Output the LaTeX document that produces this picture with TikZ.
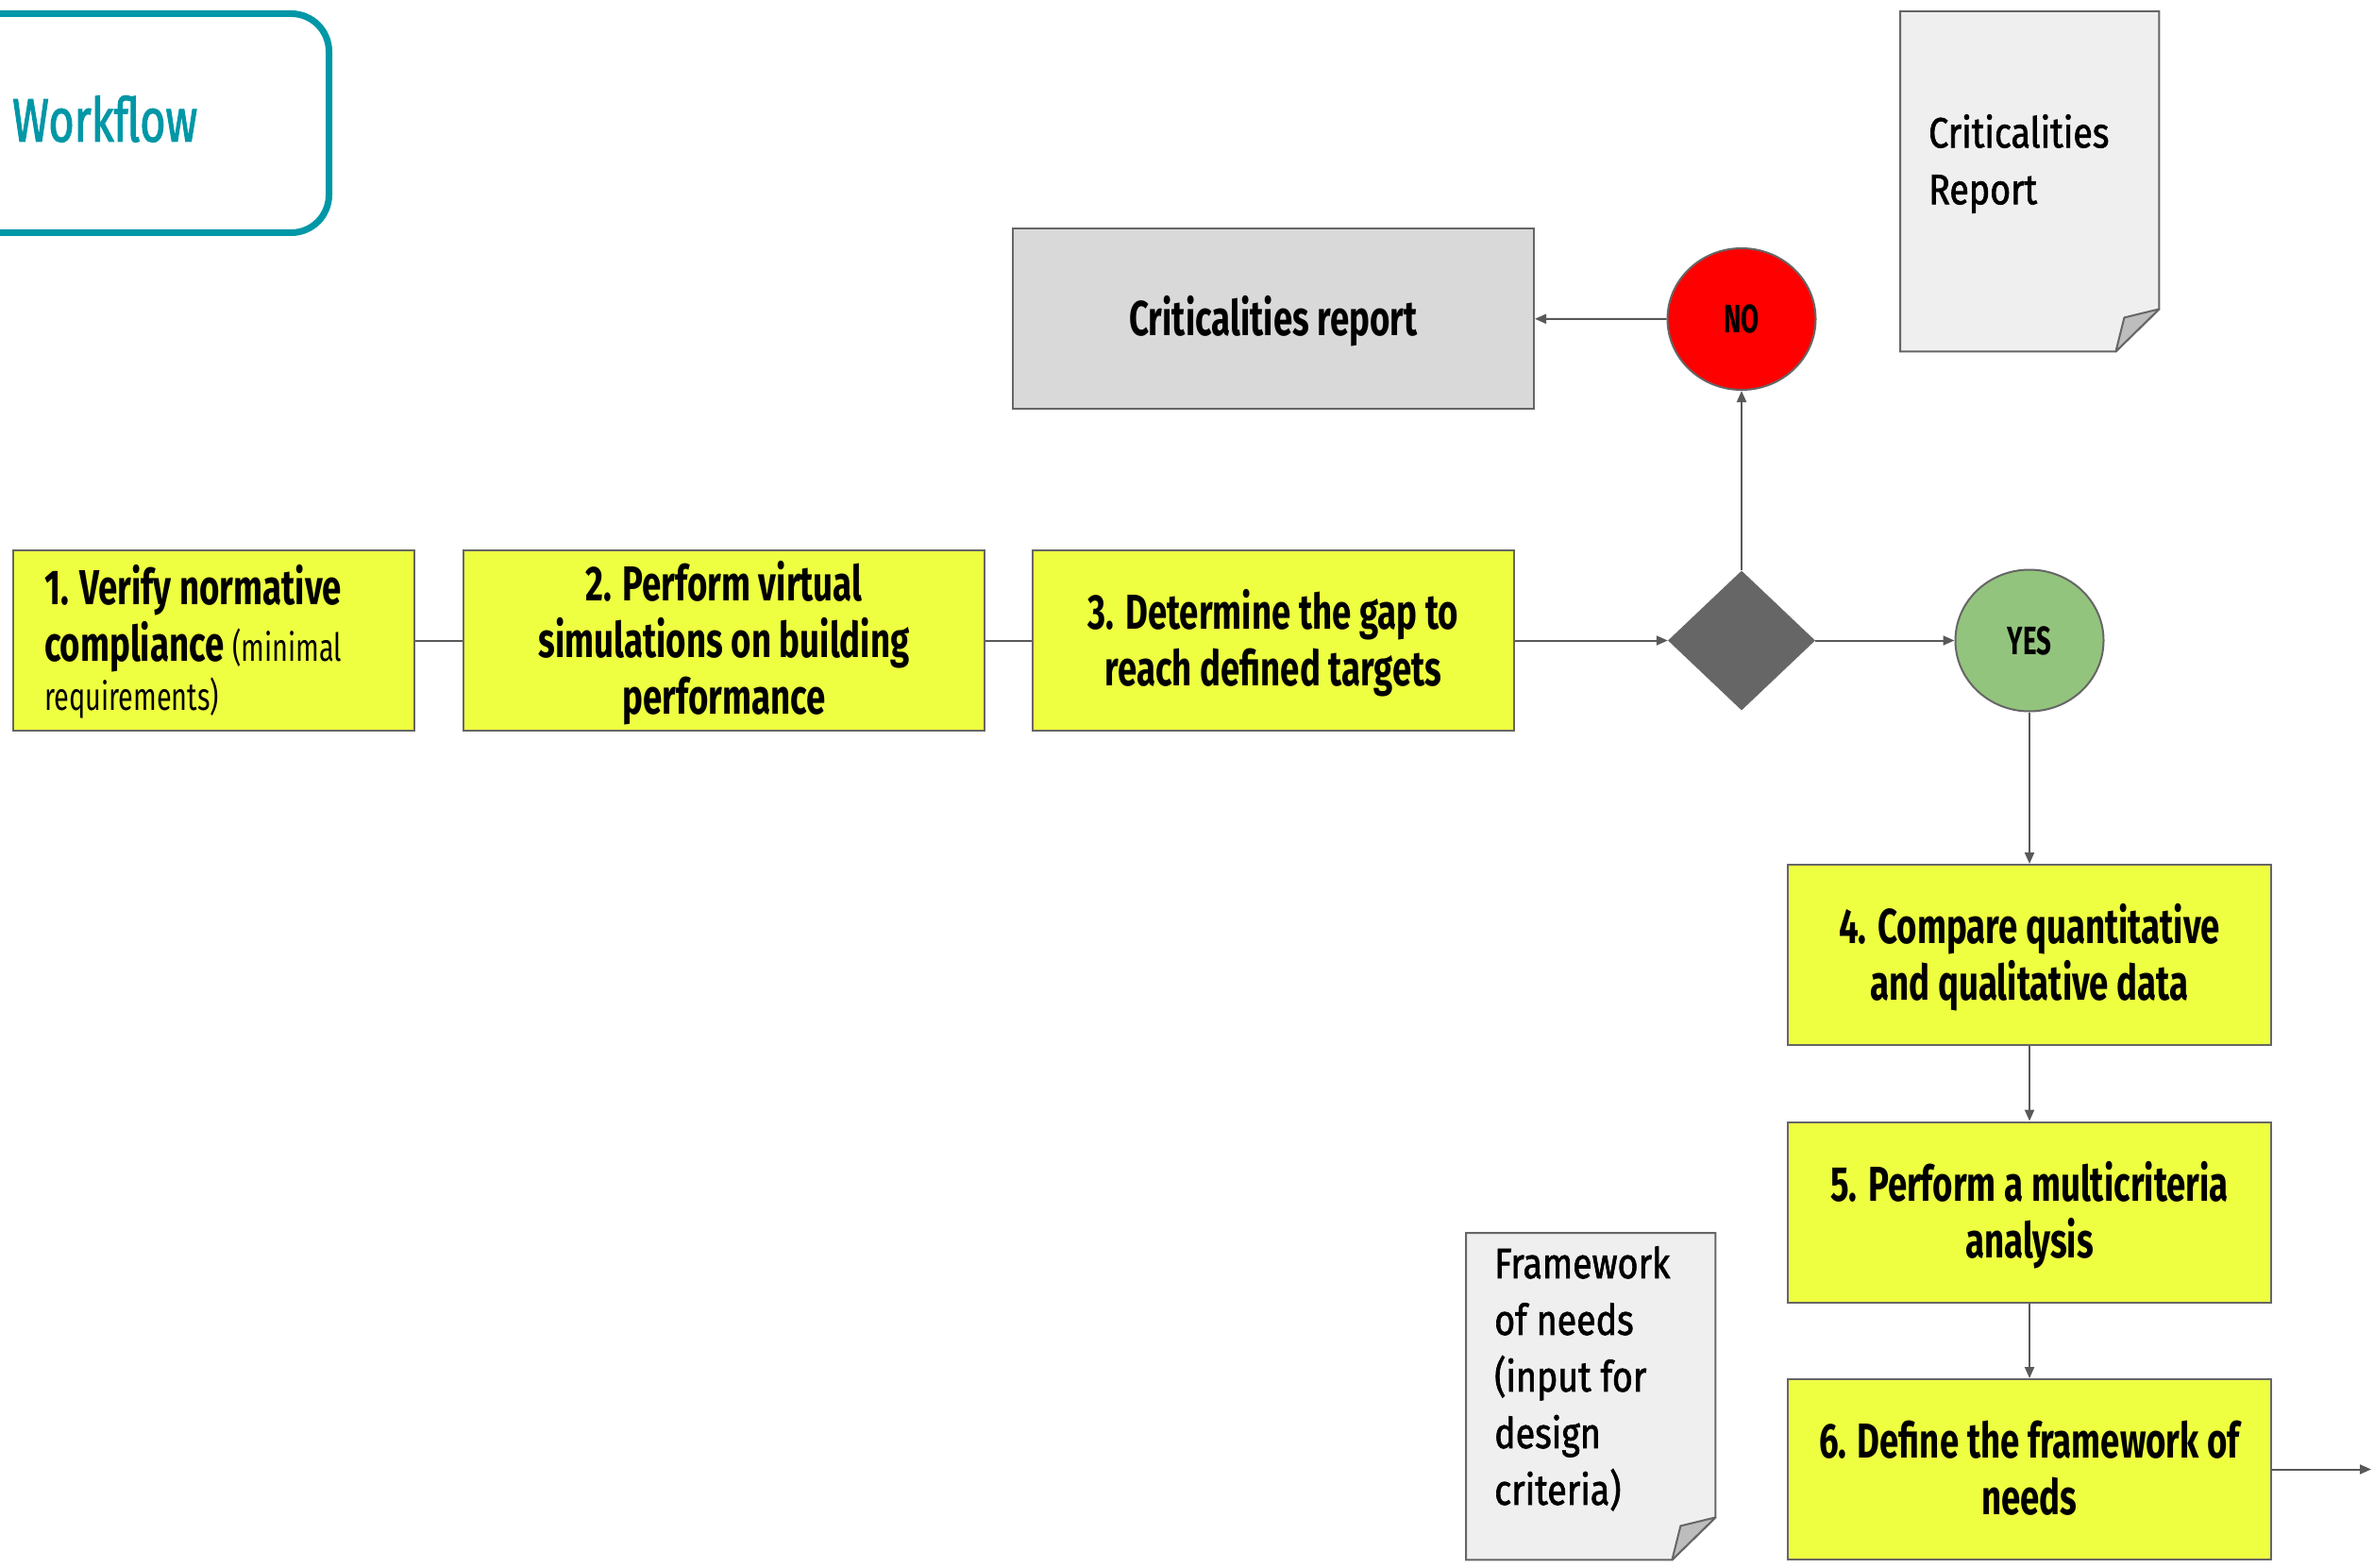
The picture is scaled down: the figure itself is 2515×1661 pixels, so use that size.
\documentclass[tikz,border=0pt]{standalone}
\usepackage{fontspec}
\setmainfont[FakeStretch=0.705]{Fira Sans}
\newfontfamily\docfont[FakeStretch=0.835,FakeBold=1.5]{Fira Sans}
\newfontfamily\titlefont[FakeStretch=0.72,FakeBold=1.5]{Fira Sans}
\newfontfamily\answerfont[FakeStretch=0.66]{Fira Sans}
\usetikzlibrary{shapes.geometric,arrows.meta}
\definecolor{stepfill}{HTML}{EEFF41}
\definecolor{edgegray}{HTML}{666666}
\definecolor{linkgray}{HTML}{595959}
\definecolor{reportfill}{HTML}{D9D9D9}
\definecolor{docfill}{HTML}{EFEFEF}
\definecolor{foldfill}{HTML}{BDBDBD}
\definecolor{titleteal}{HTML}{0097A7}
\definecolor{nored}{HTML}{FF0000}
\definecolor{yesgreen}{HTML}{93C47D}
\definecolor{decisiongray}{HTML}{666666}
% struts above the first line and below the last one keep the capitals centred
\newcommand\capstrut{\rule{0pt}{50pt}}
\tikzset{
  capcentred/.style={execute at end node={\rule[-14pt]{0pt}{14pt}}},
  stepbox/.style={draw=edgegray, line width=2pt, fill=stepfill, inner sep=0pt,
    minimum height=191pt, align=center, capcentred,
    font=\fontsize{52}{60}\selectfont\bfseries},
  reportbox/.style={draw=edgegray, line width=2pt, fill=reportfill, inner sep=0pt,
    align=center, capcentred, font=\fontsize{52}{60}\selectfont\bfseries},
  docpage/.style={inner sep=0pt, anchor=north west},
  docline/.style={draw=edgegray, line width=2pt, fill=docfill},
  docfold/.style={draw=edgegray, line width=2pt, fill=foldfill, line join=round},
  doctext/.style={inner sep=0pt, anchor=north west, align=left,
    font=\fontsize{45}{60}\docfont},
  answer/.style={ellipse, draw=edgegray, line width=2pt, inner sep=0pt,
    minimum width=157pt, minimum height=150pt, font=\fontsize{42}{48}\answerfont\bfseries},
  link/.style={draw=linkgray, line width=2pt},
  flow/.style={link, -{Triangle[length=12pt,width=10pt]}},
}
\begin{document}
\begin{tikzpicture}[x=1pt,y=-1pt]
\useasboundingbox (0,0) rectangle (2515,1661);

% title frame
\node[draw=titleteal, line width=7pt, rounded corners=40pt, minimum width=405pt,
      minimum height=232pt, anchor=north west, inner sep=0pt] (wfframe) at (-60,11) {};
\node[anchor=base west, inner sep=0pt, text=titleteal,
      font=\fontsize{65}{70}\titlefont] (wftitle) at (13,150) {Workflow};

% process steps
\node[stepbox, minimum width=425pt, text width=359pt, align=left] (s1) at (226.5,678.5)
  {\spaceskip=0pt\xspaceskip=0pt\capstrut 1. Verify normative\\
   compliance {\mdseries\fontsize{41}{52}\selectfont (minimal}\\[-8pt]
   {\mdseries\fontsize{41}{52}\selectfont requirements)}};
\node[stepbox, minimum width=552pt] (s2) at (767,678.5)
  {\capstrut 2. Perform virtual\\simulations on building\\performance};
\node[stepbox, minimum width=510pt] (s3) at (1349,678.5)
  {\capstrut 3. Determine the gap to\\reach defined targets};
\node[stepbox, minimum width=512pt] (s4) at (2150,1011.5)
  {\capstrut 4. Compare quantitative\\and qualitative data};
\node[stepbox, minimum width=512pt] (s5) at (2150,1284)
  {\capstrut 5. Perform a multicriteria\\analysis};
\node[stepbox, minimum width=512pt] (s6) at (2150,1556.5)
  {\capstrut 6. Define the framework of\\needs};

% decision and outcomes
\node[diamond, fill=decisiongray, inner sep=0pt, minimum width=156pt,
      minimum height=148pt] (gap) at (1845,678.5) {};
\node[answer, fill=nored] (no) at (1845,338) {NO};
\node[answer, fill=yesgreen] (yes) at (2150,678.5) {YES};
\node[reportbox, minimum width=552pt, minimum height=191pt] (report) at (1349,337.5)
  {\capstrut Criticalities report};

% documents with a folded corner
\node[docpage, minimum width=274pt, minimum height=360pt] (critdoc) at (2013,12) {};
\node[docpage, minimum width=264pt, minimum height=346pt] (needsdoc) at (1553,1306) {};
\foreach \d in {critdoc,needsdoc}{
  \path[docline] (\d.north west) -- (\d.north east) -- ([yshift=45pt]\d.south east)
    -- ([xshift=-46pt]\d.south east) -- (\d.south west) -- cycle;
  \path[docfold] ([yshift=45pt]\d.south east) -- ([xshift=-37pt,yshift=36pt]\d.south east)
    -- ([xshift=-46pt]\d.south east) -- cycle;
}
\node[doctext] (critdoctext) at (2043,121) {Criticalities\\Report};
\node[doctext] (needsdoctext) at (1583,1320)
  {Framework\\of needs\\(input for\\design\\criteria)};

% connectors
\coordinate (out) at (2512,1556.5);
\draw[link] (s1) -- (s2);
\draw[link] (s2) -- (s3);
\draw[flow] (s3) -- (gap);
\draw[flow] (gap) -- (yes);
\draw[flow] (gap) -- (no);
\draw[flow] (no) -- (report);
\draw[flow] (yes) -- (s4);
\draw[flow] (s4) -- (s5);
\draw[flow] (s5) -- (s6);
\draw[flow] (s6) -- (out);
\end{tikzpicture}
\end{document}
